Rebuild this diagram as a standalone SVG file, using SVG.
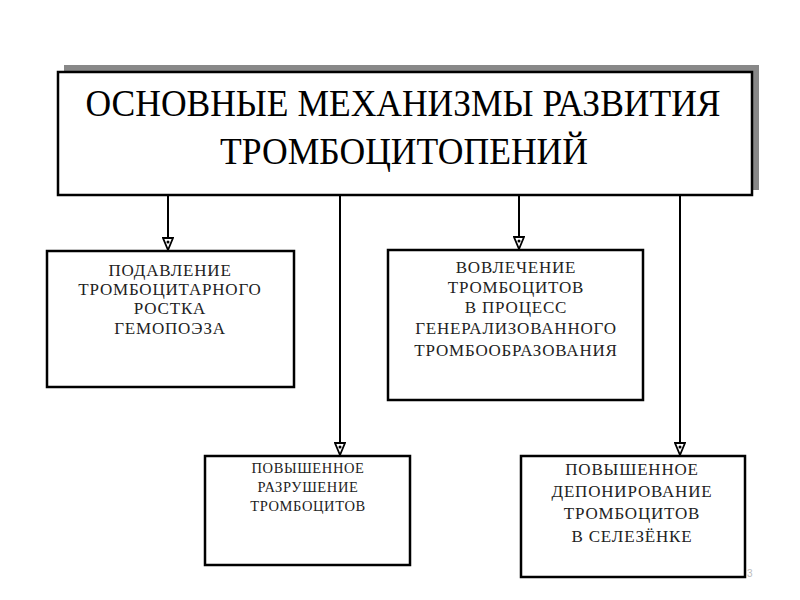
<svg xmlns="http://www.w3.org/2000/svg" width="800" height="600" viewBox="0 0 800 600">
<style>
.box{fill:#fff;stroke:#000;stroke-width:2.5}
.title{font-family:"Liberation Serif","DejaVu Serif",serif;font-size:38px;fill:#000;text-anchor:middle}
.t{font-family:"Liberation Serif","DejaVu Serif",serif;font-size:17px;letter-spacing:0.8px;fill:#222;text-anchor:middle}
.ts{font-family:"Liberation Serif","DejaVu Serif",serif;font-size:14.5px;letter-spacing:0.6px;fill:#222;text-anchor:middle}
.line{stroke:#000;stroke-width:2;fill:none}
</style>
<defs>
<marker id="arr" markerWidth="14" markerHeight="12" refX="13" refY="6" orient="auto" markerUnits="userSpaceOnUse" viewBox="0 0 14 12">
<path d="M1,1 L13,6 L1,11 Z" fill="#fff" stroke="#000" stroke-width="1.8"/>
<circle cx="5" cy="6" r="1.5" fill="#000"/>
</marker>
</defs>
<rect width="800" height="600" fill="#fff"/>
<g id="main">
<path d="M64,65 H759 V190 H752 V72 H64 Z" fill="#888"/>
<rect class="box" x="58" y="72" width="694" height="123"/>
<text class="title" x="403" y="116" textLength="635" lengthAdjust="spacingAndGlyphs">ОСНОВНЫЕ МЕХАНИЗМЫ РАЗВИТИЯ</text>
<text class="title" x="404" y="164" textLength="368" lengthAdjust="spacingAndGlyphs">ТРОМБОЦИТОПЕНИЙ</text>
</g>
<g id="connectors">
<line class="line" x1="168" y1="196" x2="168" y2="250" marker-end="url(#arr)"/>
<line class="line" x1="340" y1="196" x2="340" y2="455" marker-end="url(#arr)"/>
<line class="line" x1="519" y1="196" x2="519" y2="249" marker-end="url(#arr)"/>
<line class="line" x1="680" y1="196" x2="680" y2="455" marker-end="url(#arr)"/>
</g>
<g id="n1">
<rect class="box" x="47" y="251" width="247" height="136"/>
<text class="t" x="170" y="276">ПОДАВЛЕНИЕ</text>
<text class="t" x="170" y="295">ТРОМБОЦИТАРНОГО</text>
<text class="t" x="170" y="314">РОСТКА</text>
<text class="t" x="170" y="334">ГЕМОПОЭЗА</text>
</g>
<g id="n2">
<rect class="box" x="388" y="250" width="255" height="150"/>
<text class="t" x="516" y="273">ВОВЛЕЧЕНИЕ</text>
<text class="t" x="516" y="293">ТРОМБОЦИТОВ</text>
<text class="t" x="516" y="313">В ПРОЦЕСС</text>
<text class="t" x="516" y="334">ГЕНЕРАЛИЗОВАННОГО</text>
<text class="t" x="516" y="356">ТРОМБООБРАЗОВАНИЯ</text>
</g>
<g id="n3">
<rect class="box" x="205" y="456" width="205" height="109"/>
<text class="ts" x="308" y="473">ПОВЫШЕННОЕ</text>
<text class="ts" x="308" y="492">РАЗРУШЕНИЕ</text>
<text class="ts" x="308" y="511">ТРОМБОЦИТОВ</text>
</g>
<g id="n4">
<rect class="box" x="521" y="456" width="224" height="121"/>
<text class="t" x="632" y="475">ПОВЫШЕННОЕ</text>
<text class="t" x="632" y="497">ДЕПОНИРОВАНИЕ</text>
<text class="t" x="632" y="519">ТРОМБОЦИТОВ</text>
<text class="t" x="632" y="542">В СЕЛЕЗЁНКЕ</text>
</g>
<text x="747" y="577" font-family="Liberation Sans, Arial, sans-serif" font-size="10" fill="#bbb">3</text>
</svg>
